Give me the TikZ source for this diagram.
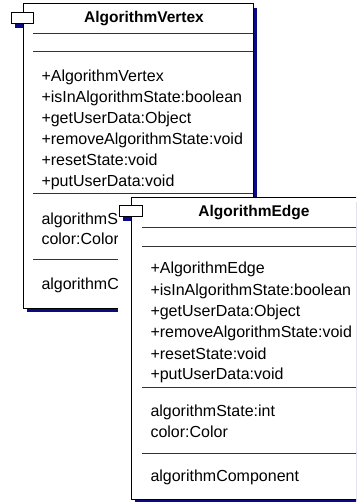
\documentclass[tikz,border=0pt]{standalone}
\usepackage{fontspec}
\setmainfont{Liberation Sans}
\definecolor{shadowblue}{RGB}{10,10,130}
\begin{document}
\begin{tikzpicture}[x=1pt,y=-1pt,
  line width=1pt,
  boxline/.style={draw=black, fill=white, line width=1pt},
  shade/.style={fill=shadowblue, draw=none},
  sep/.style={draw=black!80, line width=1pt},
  member/.style={anchor=west, inner sep=0pt, text height=11.5pt, text depth=3.4pt, font=\fontsize{16}{19}\selectfont},
  classtitle/.style={inner sep=0pt, text height=11.5pt, text depth=3.4pt, font=\fontsize{15.5}{18}\selectfont\bfseries}]
\useasboundingbox (0,0) rectangle (356,502);
\clip (0,0) rectangle (356,502);
\fill[white] (0,0) rectangle (356,502);
% ---------- AlgorithmVertex ----------
\fill[shade] (27,8) rectangle (257,312);
\fill[shade] (15,17) rectangle (37,28);
\draw[boxline] (23,4) rectangle (253,308);
\draw[boxline] (11,13) rectangle (33,24);
\node[classtitle] (vt) at (144,18) {AlgorithmVertex};
\draw[sep] (33,34) -- (253,34);
\draw[sep] (33,52) -- (253,52);
\node[member] (v1) at (41,77) {+AlgorithmVertex};
\node[member] (v2) at (41,98) {+isInAlgorithmState:boolean};
\node[member] (v3) at (41,119) {+getUserData:Object};
\node[member] (v4) at (41,140) {+removeAlgorithmState:void};
\node[member] (v5) at (41,161) {+resetState:void};
\node[member] (v6) at (41,182) {+putUserData:void};
\draw[sep] (33,194) -- (253,194);
\node[member] (v7) at (41,220) {algorithmS};
\node[member] (v8) at (41,240) {color:Color};
\draw[sep] (33,259) -- (253,259);
\node[member] (v9) at (41,285) {algorithmC};
% ---------- AlgorithmEdge ----------
\fill[white] (118,198) rectangle (380,510);
\fill[shade] (135,202) rectangle (384,510);
\fill[shade] (123,210) rectangle (146,221);
\draw[boxline] (131,198) rectangle (376,499);
\draw[boxline] (119,206) rectangle (142,217);
\node[classtitle] (et) at (254,212) {AlgorithmEdge};
\draw[sep] (142,228) -- (376,228);
\draw[sep] (142,246) -- (376,246);
\node[member] (e1) at (150,269) {+AlgorithmEdge};
\node[member] (e2) at (150,291) {+isInAlgorithmState:boolean};
\node[member] (e3) at (150,312) {+getUserData:Object};
\node[member] (e4) at (150,333) {+removeAlgorithmState:void};
\node[member] (e5) at (150,355) {+resetState:void};
\node[member] (e6) at (150,375) {+putUserData:void};
\draw[sep] (142,387) -- (376,387);
\node[member] (e7) at (150,412) {algorithmState:int};
\node[member] (e8) at (150,433) {color:Color};
\draw[sep] (142,453) -- (376,453);
\node[member] (e9) at (150,477) {algorithmComponent};
\end{tikzpicture}
\end{document}
